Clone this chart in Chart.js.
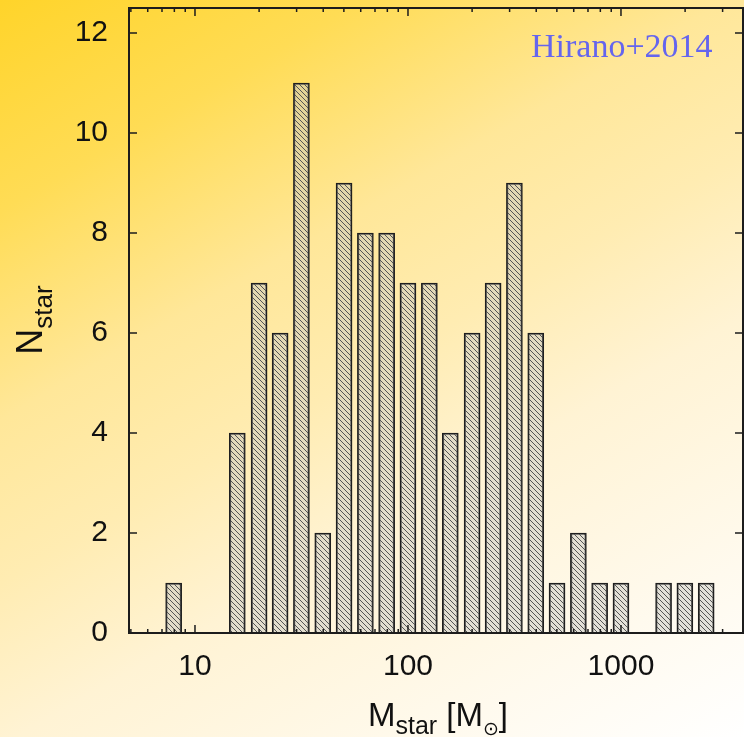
<!DOCTYPE html>
<html lang="en">
<head>
<meta charset="UTF-8">
<title>Hirano+2014 stellar mass histogram</title>
<script src="https://cdn.jsdelivr.net/npm/chart.js@4.4.0/dist/chart.umd.min.js"></script>
<style>
html,body{margin:0;padding:0}
body{width:744px;height:737px;overflow:hidden;
  background:linear-gradient(150deg,#ffd42a 0%,#ffdc55 18%,#ffe799 36%,#ffecb2 50%,#fff3d4 64%,#fffaee 85%,#fff 100%)}
#wrap{position:relative;width:744px;height:737px}
</style>
</head>
<body>
<div id="wrap"><canvas id="hist" width="744" height="737"></canvas></div>
<script>
/* ---------- data (bin centres in Msun, 0.1 dex bins) ---------- */
const massBins = [7.94, 10.0, 12.6, 15.8, 20.0, 25.1, 31.6, 39.8, 50.1, 63.1, 79.4,
                  100, 126, 158, 200, 251, 316, 398, 501, 631, 794,
                  1000, 1259, 1585, 1995, 2512];
const nStar    = [1, 0, 0, 4, 7, 6, 11, 2, 9, 8, 8,
                  7, 7, 4, 6, 7, 9, 6, 1, 2, 1,
                  1, 0, 1, 1, 1];
const xMajor = [10, 100, 1000];
const xMinor = [5, 6, 7, 8, 9, 20, 30, 40, 50, 60, 70, 80, 90,
                200, 300, 400, 500, 600, 700, 800, 900, 2000, 3000];
const yTicks = [0, 2, 4, 6, 8, 10, 12];

const SANS = '"Liberation Sans", Arial, sans-serif';

/* ---------- hatch fill ---------- */
function hatch(){
  const c = document.createElement('canvas'); c.width = c.height = 5;
  const g = c.getContext('2d');
  g.fillStyle = 'rgba(200,200,195,0.5)'; g.fillRect(0,0,5,5);
  g.strokeStyle = '#555'; g.lineWidth = 1;
  g.beginPath();
  g.moveTo(0,0); g.lineTo(5,5);
  g.moveTo(-2.5,2.5); g.lineTo(2.5,7.5);
  g.moveTo(2.5,-2.5); g.lineTo(7.5,2.5);
  g.stroke();
  return g.createPattern(c,'repeat');
}

/* draw text pieces one after another (for subscripts) */
function richText(ctx, parts, x, y){
  parts.forEach(p=>{
    ctx.font = p.size+'px '+(p.font||SANS);
    ctx.fillText(p.t, x, y+(p.dy||0));
    x += ctx.measureText(p.t).width;
  });
}
function richWidth(ctx, parts){
  let w = 0;
  parts.forEach(p=>{ ctx.font = p.size+'px '+(p.font||SANS); w += ctx.measureText(p.t).width; });
  return w;
}

/* ---------- frame, inward ticks, labels ---------- */
const frame = {
  id:'frame',
  afterDatasetsDraw(chart){
    const {ctx, chartArea:a, scales:{x,y}} = chart;
    ctx.save();
    ctx.strokeStyle = '#1c1c1c';
    ctx.lineWidth = 1.5;
    ctx.beginPath();
    xMajor.concat(xMinor).forEach(v=>{
      const px = x.getPixelForValue(v), len = xMajor.includes(v) ? 8 : 4;
      ctx.moveTo(px,a.bottom); ctx.lineTo(px,a.bottom-len);
      ctx.moveTo(px,a.top);    ctx.lineTo(px,a.top+len);
    });
    yTicks.forEach(v=>{
      const py = y.getPixelForValue(v);
      ctx.moveTo(a.left,py);  ctx.lineTo(a.left+8,py);
      ctx.moveTo(a.right,py); ctx.lineTo(a.right-8,py);
    });
    ctx.stroke();
    ctx.lineWidth = 2;
    ctx.strokeRect(a.left,a.top,a.right-a.left,a.bottom-a.top);
    ctx.restore();
  },
  afterDraw(chart){
    const {ctx} = chart;
    ctx.save();
    ctx.fillStyle = '#111';
    ctx.textBaseline = 'alphabetic';
    // x title
    const xt = [{t:'M',size:33},{t:'star',size:25,dy:8},{t:' [M',size:33},
                {t:'\u2299',size:19,dy:9,font:'"DejaVu Sans", sans-serif'},{t:']',size:33}];
    richText(ctx, xt, 438 - richWidth(ctx,xt)/2, 726);
    // y title
    const yt = [{t:'N',size:36},{t:'star',size:26,dy:10}];
    ctx.translate(42, 320 + richWidth(ctx,yt)/2);
    ctx.rotate(-Math.PI/2);
    richText(ctx, yt, 0, 0);
    ctx.restore();
    // annotation
    ctx.save();
    ctx.fillStyle = '#6565ee';
    ctx.font = '34px "Liberation Serif", "Times New Roman", serif';
    ctx.fillText('Hirano+2014', 531, 57);
    ctx.restore();
  }
};

const pattern = hatch();

new Chart(document.getElementById('hist'), {
  type:'bar',
  data:{
    datasets:[{
      data: massBins.map((m,i)=>({x:m, y:nStar[i]})),
      backgroundColor: pattern,
      borderColor:'#1e1e1e',
      borderWidth:1.5,
      barThickness:16
    }]
  },
  options:{
    responsive:false,
    animation:false,
    layout:{padding:{top:8,right:1,left:0,bottom:0}},
    plugins:{legend:{display:false},tooltip:{enabled:false}},
    scales:{
      x:{
        type:'logarithmic', min:4.9, max:3740,
        grid:{display:false, drawTicks:false},
        border:{display:false},
        afterBuildTicks:s=>{ s.ticks = xMinor.concat(xMajor).sort((a,b)=>a-b).map(v=>({value:v})); },
        afterFit:s=>{ s.height = 104; s.paddingLeft = s.paddingRight = 0; },
        ticks:{
          autoSkip:false, maxRotation:0, padding:16, color:'#111',
          font:{family:SANS, size:30},
          callback:v=> xMajor.includes(v) ? String(v) : ''
        }
      },
      y:{
        min:0, max:12.5,
        grid:{display:false, drawTicks:false},
        border:{display:false},
        afterBuildTicks:s=>{ s.ticks = yTicks.map(v=>({value:v})); },
        afterFit:s=>{ s.width = 129; s.paddingTop = s.paddingBottom = 0; },
        ticks:{padding:21, color:'#111', font:{family:SANS, size:30}}
      }
    }
  },
  plugins:[frame]
});
</script>
</body>
</html>
